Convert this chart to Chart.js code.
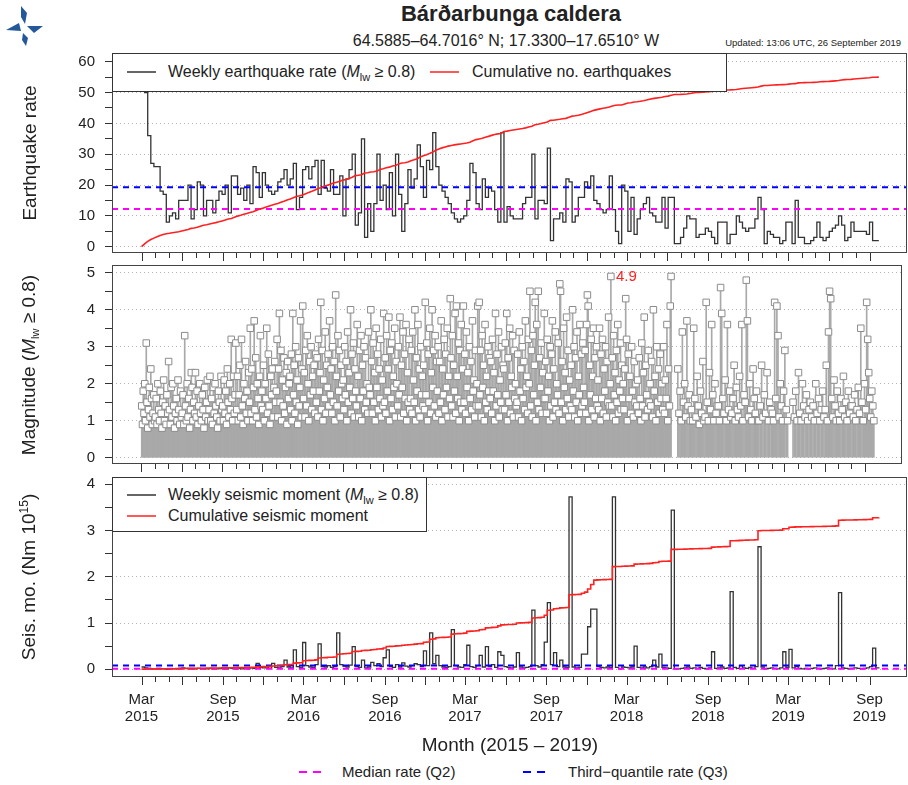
<!DOCTYPE html>
<html>
<head>
<meta charset="utf-8">
<title>Bárðarbunga caldera</title>
<script src="https://cdn.jsdelivr.net/npm/chart.js@4.4.1/dist/chart.umd.min.js"></script>
<style>
  body { margin: 0; background: #fff; }
  #wrap { position: relative; width: 908px; height: 785px; overflow: hidden;
          font-family: "Liberation Sans", Arial, sans-serif; color: #222; }
  canvas { position: absolute; left: 0; }
  .t { position: absolute; white-space: nowrap; }
  .ytitle { position: absolute; left: 30px; white-space: nowrap; font-size: 19px; line-height: 22px;
            transform: translate(-50%, -50%) rotate(-90deg); }
  .box { position: absolute; background: #fff; border: 1px solid #333; box-sizing: border-box; }
  .ls { position: absolute; }
  .lt { font-size: 16px; line-height: 20px; }
  .sb { font-size: 11px; position: relative; top: 4px; }
  .sp { font-size: 12px; position: relative; top: -7px; }
</style>
</head>
<body>
<div id="wrap">
  <svg style="position:absolute;left:4px;top:5px" width="42" height="42" viewBox="0 0 42 42">
    <g fill="#24589a">
      <polygon points="17,1 23,8 21,19 17,12"/>
      <polygon points="2,25 15,18 17,26"/>
      <polygon points="23,21 39,21 30,28"/>
      <polygon points="19,28 24,33 22,41 18,35"/>
    </g>
  </svg>
  <div class="t" style="left:0;top:1px;width:1022px;text-align:center;font-weight:bold;font-size:22px;line-height:26px;">Bárðarbunga caldera</div>
  <div class="t" style="left:0;top:31px;width:1012px;text-align:center;font-size:16px;line-height:20px;">64.5885–64.7016° N; 17.3300–17.6510° W</div>
  <div class="t" style="right:7px;top:37px;font-size:9.5px;line-height:12px;">Updated: 13:06 UTC, 26 September 2019</div>

  <canvas id="cRate" width="908" height="217" style="top:45px"></canvas>
  <canvas id="cMag" width="908" height="216" style="top:258px"></canvas>
  <canvas id="cMoment" width="908" height="256" style="top:474px"></canvas>

  <div class="ytitle" style="top:153px">Earthquake rate</div>
  <div class="ytitle" style="top:365px">Magnitude (<i>M</i><span class="sb">lw</span> ≥ 0.8)</div>
  <div class="ytitle" style="top:577px">Seis. mo. (Nm 10<span class="sp">15</span>)</div>

  <!-- legend, rate panel -->
  <div class="box" style="left:112px;top:53px;width:615px;height:39px;"></div>
  <svg class="ls" style="left:126px;top:68px" width="32" height="8">
    <line x1="1" y1="4" x2="30" y2="4" stroke="#333" stroke-width="1.5"/>
  </svg>
  <div class="t lt" style="left:168px;top:62px;">Weekly earthquake rate (<i>M</i><span class="sb">lw</span> ≥ 0.8)</div>
  <svg class="ls" style="left:429px;top:68px" width="32" height="8">
    <line x1="1" y1="4" x2="30" y2="4" stroke="#ff2020" stroke-width="1.5"/>
  </svg>
  <div class="t lt" style="left:472px;top:62px;">Cumulative no. earthquakes</div>

  <!-- legend, moment panel -->
  <div class="box" style="left:112px;top:477px;width:315px;height:55px;"></div>
  <svg class="ls" style="left:126px;top:491px" width="32" height="8">
    <line x1="1" y1="4" x2="30" y2="4" stroke="#333" stroke-width="1.5"/>
  </svg>
  <div class="t lt" style="left:168px;top:485px;">Weekly seismic moment (<i>M</i><span class="sb">lw</span> ≥ 0.8)</div>
  <svg class="ls" style="left:126px;top:512px" width="32" height="8">
    <line x1="1" y1="4" x2="30" y2="4" stroke="#ff2020" stroke-width="1.5"/>
  </svg>
  <div class="t lt" style="left:168px;top:506px;">Cumulative seismic moment</div>

  <div class="t" style="left:0;top:734px;width:1020px;text-align:center;font-size:19px;line-height:22px;">Month (2015 – 2019)</div>

  <svg class="ls" style="left:296px;top:767px" width="30" height="10">
    <line x1="3" y1="5" x2="27" y2="5" stroke="#ff00ff" stroke-width="2" stroke-dasharray="8,6"/>
  </svg>
  <div class="t" style="left:342px;top:763px;font-size:15px;line-height:18px;">Median rate (Q2)</div>
  <svg class="ls" style="left:520px;top:767px" width="30" height="10">
    <line x1="3" y1="5" x2="27" y2="5" stroke="#0000ff" stroke-width="2" stroke-dasharray="8,6"/>
  </svg>
  <div class="t" style="left:568px;top:763px;font-size:15px;line-height:18px;">Third−quantile rate (Q3)</div>
</div>

<script>
// weekly number of earthquakes, first week starting 1 March 2015
const weeklyRate = [
  55,50,36,27,26,26,18,17,8,10,
  11,9,15,15,15,20,9,12,21,20,
  10,15,15,11,15,18,17,20,11,23,
  23,17,19,15,20,14,26,24,16,24,
  20,18,17,18,21,22,25,20,22,27,
  12,16,25,26,22,26,28,17,
  28,19,18,25,17,17,23,10,22,25,
  30,7,11,35,3,14,5,14,30,15,
  20,12,24,10,30,17,5,14,25,19,
  22,33,26,16,28,25,37,26,20,18,
  16,14,11,9,8,9,10,15,27,24,
  14,12,22,16,19,18,12,8,37,8,
  13,
  10,9,9,9,14,16,16,30,9,15,
  15,14,32,2,9,9,11,8,22,21,
  8,10,16,16,21,19,23,15,14,12,
  11,12,23,12,5,1,20,18,5,16,
  4,9,12,14,16,11,10,8,8,16,
  6,16,16,1,1,3,6,10,9,9,
  3,4,4,6,5,3,1,8,8,8,
  1,4,4,10,8,6,5,6,6,9,
  16,12,1,5,4,3,3,1,2,8,
  8,1,15,3,3,1,1,2,3,8,
  3,2,3,5,6,7,10,7,2,3,
  8,5,5,5,5,4,8,2,2,2
];

// weekly seismic moment, 10^15 Nm
const weeklyMoment = [
  0.05,0.03,0.02,0.01,0.01,0.02,0.01,0.01,0.00,0.01,
  0.01,0.01,0.02,0.03,0.02,0.01,0.01,0.01,0.02,0.01,
  0.01,0.01,0.02,0.01,0.01,0.02,0.01,0.01,0.03,0.02,
  0.01,0.02,0.01,0.02,0.01,0.03,0.02,
  0.13,0.04,0.03,0.05,0.02,0.13,0.04,0.03,0.06,0.20,
  0.05,0.03,0.42,0.06,0.04,0.58,0.08,0.05,0.04,0.10,
  0.55,0.06,0.05,0.08,0.04,0.06,0.79,0.10,0.07,0.05,
  0.09,0.49,0.06,0.04,0.20,0.03,0.05,0.15,0.08,0.12,
  0.06,0.25,0.42,0.06,0.04,0.10,0.05,0.14,0.07,0.05,
  0.08,0.12,0.10,0.06,0.40,0.08,0.79,0.12,0.30,0.08,
  0.05,0.04,0.06,0.86,0.08,0.05,0.04,0.10,0.52,0.06,
  0.04,0.08,0.30,0.05,0.49,0.06,0.10,0.04,0.38,
  0.30,0.06,0.04,0.03,0.05,0.36,0.05,0.03,0.04,0.06,
  1.28,0.08,0.05,0.10,0.59,1.44,0.10,0.36,0.06,0.20,
  0.05,0.04,3.73,0.05,0.03,0.04,0.33,0.33,0.92,1.30,
  1.30,0.06,0.04,0.03,0.05,0.04,3.73,0.04,0.01,0.05,
  0.04,0.03,0.05,0.50,0.04,0.03,0.05,0.03,0.06,0.20,
  0.05,0.33,0.04,0.03,0.02,3.44,0.01,0.01,0.02,0.03,
  0.05,0.02,0.03,0.02,0.04,0.02,0.01,0.03,0.38,0.02,
  0.03,0.05,0.02,0.03,1.68,0.04,0.02,0.08,0.03,0.02,
  0.04,0.02,0.06,2.65,0.05,0.01,0.02,0.03,0.02,0.01,
  0.03,0.38,0.04,0.43,0.03,0.06,0.02,0.01,0.02,0.01,
  0.02,0.03,0.02,0.01,0.02,0.03,0.02,0.01,0.08,1.66,
  0.03,0.02,0.01,0.02,0.03,0.02,0.01,0.02,0.03,0.06,
  0.46,0.03,0.02
];

const rateQ2 = 12.2, rateQ3 = 19.3;
const momentQ2 = 0.01, momentQ3 = 0.08;
const cumRateEnd = 55;      // where the cumulative count ends on the rate axis
const cumMomentEnd = 3.28;  // where the cumulative moment ends on the moment axis

// magnitudes (Mlw) month by month, Mar 2015 .. Sep 2019; null = quiet spell
const monthlyMagnitudes = [
  [1.4,0.9,1.8,1.2,2.0,1.0,3.1,1.5,0.8,1.3,1.9,1.1,2.4,1.6,0.9,1.2,1.7,1.0],
  [1.1,1.6,0.9,2.0,1.3,1.0,1.8,1.2,0.8,1.5,2.1,1.0,1.4,0.9,1.7,1.2],
  [2.6,1.3,0.9,1.9,1.1,2.0,1.4,0.8,1.2,1.6,1.0,2.1,1.3,0.9,1.8,1.1],
  [1.2,1.7,0.9,3.3,1.4,1.0,2.0,1.1,1.6,0.8,1.3,2.3,1.9,1.0,1.5,1.2],
  [2.3,1.1,1.8,0.9,1.4,2.0,1.2,1.0,1.7,1.3,0.8,1.9,1.1,1.5,2.1,1.0],
  [1.3,2.2,1.0,1.6,0.9,1.9,1.2,2.0,1.4,1.1,0.8,1.8,1.5,1.0,2.2,1.3],
  [1.4,1.0,2.1,1.2,1.8,0.9,2.4,1.5,1.1,2.0,1.3,3.2,1.6,1.0,2.2,1.2,1.7],
  [3.1,1.3,2.2,1.0,1.7,2.5,1.1,3.2,1.4,0.9,2.0,1.6,2.6,1.2,1.8,1.0,2.3],
  [1.5,3.5,1.2,2.4,1.0,1.9,3.7,1.3,2.7,1.1,2.0,1.6,0.9,2.2,3.3,1.4,1.8],
  [1.3,2.5,1.0,2.0,1.6,3.5,1.2,2.8,1.4,0.9,2.2,1.7,2.4,1.1,1.9,2.6,1.5],
  [1.8,3.2,1.1,2.4,3.9,1.5,2.9,1.0,2.1,1.4,2.7,1.2,1.9,2.3,0.9,2.6,1.6,2.0],
  [2.2,1.3,2.8,1.0,3.9,1.7,2.5,1.2,3.0,1.5,2.1,0.9,2.7,1.4,1.9,3.7,1.1,2.4],
  [4.1,1.6,2.3,1.1,2.9,1.4,3.3,2.0,1.0,2.6,1.7,3.0,1.3,2.2,1.8,2.5,1.2,2.8],
  [1.5,2.7,1.1,3.2,1.8,2.3,4.2,1.3,2.9,1.0,2.1,1.6,3.4,1.2,2.5,1.9,2.8,1.4],
  [3.7,1.7,2.4,1.2,3.0,1.5,2.6,1.0,4.4,2.2,1.4,3.3,1.8,2.9,1.1,2.5,2.0,1.6],
  [2.1,1.3,3.0,1.7,2.6,1.0,3.4,1.5,2.3,1.9,4.0,1.2,2.8,1.6,3.1,1.1,2.4,1.8],
  [1.4,3.6,2.2,1.1,2.9,1.6,3.3,1.0,2.5,1.8,3.0,1.3,2.7,1.5,2.0,1.2,3.4,1.9],
  [1.7,4.0,2.6,1.2,3.1,1.5,2.3,1.0,3.5,1.9,2.8,1.3,2.4,1.6,3.2,1.1,2.1,1.4],
  [3.9,1.5,2.7,1.2,3.3,1.8,2.4,3.8,1.0,2.9,1.6,3.1,1.3,2.2,1.9,3.5,1.1,2.6],
  [2.0,1.4,3.0,1.7,3.8,1.1,2.5,1.9,3.4,1.2,2.8,1.6,3.6,1.0,2.3,1.5,3.2,1.3],
  [1.6,2.9,1.2,3.4,2.1,1.5,4.0,1.0,2.7,1.8,3.6,1.3,2.4,1.1,3.0,1.7,2.2,1.4],
  [2.5,1.3,4.2,1.7,3.1,1.0,2.8,1.5,3.5,1.2,2.3,4.0,1.9,2.9,1.4,3.3,1.1,2.6],
  [1.8,3.0,1.2,2.6,1.5,3.7,1.0,2.4,1.7,3.2,1.3,2.8,1.9,3.5,1.1,2.2,1.6,4.3],
  [2.7,1.4,3.3,1.1,2.5,1.8,3.9,1.2,4.1,2.2,1.6,3.1,1.0,2.9,1.5,3.6,1.3,2.4],
  [4.1,1.5,2.8,1.2,3.4,1.9,2.3,1.0,3.0,1.6,2.6,1.3,3.7,1.8,2.1,1.1,2.9,1.4],
  [2.0,4.1,1.4,4.2,1.7,2.9,1.1,3.3,1.9,2.5,1.0,3.6,1.5,2.2,1.3,3.0,1.8,2.7],
  [1.6,2.6,1.2,3.2,1.8,2.3,1.0,3.9,1.4,2.8,1.7,3.4,1.1,2.1,1.5,3.0,1.3,2.5],
  [2.4,1.3,3.1,1.7,3.9,1.0,2.7,1.5,3.5,1.2,2.2,1.9,3.3,1.1,2.9,1.6,2.0,1.4],
  [1.5,2.8,1.1,3.4,1.8,2.4,1.0,3.0,1.6,2.6,1.3,3.7,1.9,2.2,1.2,3.2,2.0,4.5],
  [1.4,2.9,1.1,3.3,1.7,2.5,4.2,1.0,3.6,1.5,4.5,1.3,2.7,1.9,3.1,1.2,2.3,1.6],
  [3.9,1.6,2.6,1.2,3.2,1.8,2.2,1.0,3.0,1.4,2.8,3.7,1.1,2.4,1.5,3.4,1.3,2.0],
  [1.7,3.1,1.2,4.7,4.5,1.5,2.6,1.0,3.5,1.9,2.3,1.3,3.8,1.6,2.9,1.1,2.1,1.4],
  [2.5,1.3,4.0,1.8,3.0,1.1,2.7,1.5,3.4,1.0,2.2,1.7,3.6,1.2,2.8,1.4,3.1,1.9],
  [1.5,2.9,1.2,3.6,4.4,4.1,1.0,2.5,1.7,3.2,1.3,2.2,3.5,1.1,2.7,1.6,3.0,1.4],
  [2.1,1.3,3.5,1.0,2.8,1.6,3.2,1.2,2.4,1.8,3.0,1.1,2.6,1.5,3.8,1.4,2.0,4.9],
  [1.4,2.7,1.1,3.3,1.7,2.3,1.0,2.9,1.5,3.6,1.2,2.1,1.8,3.1,1.3,2.5,1.6,2.0],
  [1.3,2.4,4.3,3.2,1.0,2.8,1.6,2.2,1.2,3.0,1.8,1.1,2.6,1.5,2.0,1.4],
  [2.1,1.2,2.7,1.6,1.0,3.1,1.4,2.3,3.8,1.1,2.5,1.7,1.3,2.9,1.5,2.0],
  [1.4,2.6,1.1,4.0,1.8,2.2,1.0,3.0,1.5,2.4,1.2,2.8,1.6,2.0,1.3,3.0],
  [1.2,2.1,1.6,3.6,1.0,2.4,1.4,4.1,4.9,null,null,null,null,null,null,null],
  [2.4,1.2,1.8,1.0,3.4,1.5,2.0,1.1,3.7,1.4,1.7,1.0],
  [1.3,1.0,3.5,1.6,1.1,2.2,1.4,0.9,1.8,1.2,2.6,1.0],
  [1.1,4.2,1.5,1.0,2.3,1.3,3.6,1.7,1.0,2.0,1.2,1.4],
  [1.4,1.0,4.6,3.9,1.6,1.2,2.1,1.0,3.6,1.3,1.8,1.1],
  [1.2,1.6,2.5,1.0,1.9,1.3,1.1,2.2,1.4,3.6,1.0,1.7],
  [1.5,4.8,3.7,1.1,2.0,1.3,1.0,2.4,1.6,1.2,1.8,1.0],
  [1.0,1.4,2.5,1.1,1.7,1.2,2.3,1.0,1.5,1.3],
  [1.2,1.0,4.2,1.6,4.1,3.3,1.1,2.0,1.4,1.0,1.8],
  [2.9,1.3,1.0,null,null,null,1.5,1.1,1.8,1.0],
  [2.3,1.2,1.0,2.0,1.4,1.1,1.7,1.0,1.3,1.5],
  [1.1,1.4,1.0,2.0,1.2,1.6,1.0,1.3,1.8,1.1],
  [1.3,2.5,1.0,3.4,4.5,4.3,1.6,1.1,2.1,1.4,1.0,1.8],
  [1.2,1.0,1.6,1.3,2.2,1.1,1.5,1.0,1.8,1.2,1.4],
  [1.4,1.1,1.7,1.0,1.3,1.9,1.2,3.5,1.5,1.0,2.0],
  [1.3,4.2,3.2,2.3,1.6,1.1,1.8,1.4,1.0]
];

const rateTickLabels = [0, 10, 20, 30, 40, 50, 60];
const magTickLabels = [0, 1, 2, 3, 4, 5];
const momentTickLabels = [0, 1, 2, 3, 4];
const xTickLabels = [
  ['Mar','2015'], ['Sep','2015'], ['Mar','2016'], ['Sep','2016'], ['Mar','2017'],
  ['Sep','2017'], ['Mar','2018'], ['Sep','2018'], ['Mar','2019'], ['Sep','2019']
];

const FONT = '"Liberation Sans", Arial, sans-serif';
Chart.defaults.font.family = FONT;
Chart.defaults.color = '#222';

// x runs in days since 1 Mar 2015
const START = Date.UTC(2015, 2, 1);
const dayOf = m => (Date.UTC(2015, 2 + m, 1) - START) / 864e5;
const N_MONTHS = monthlyMagnitudes.length;
const DATA_END = 7 * (weeklyRate.length - 1);
const X_MIN = -66.7, X_MAX = 1729.7;

const RATE_Y = [-2.04, 62.82];
const MAG_Y = [-0.17, 5.21];
const MOM_Y = [-0.166, 4.158];

const weekly = vals => vals.map((v, i) => ({ x: 7 * i, y: v }));
const level = v => [{ x: X_MIN, y: v }, { x: X_MAX, y: v }];

// running totals
const cumBefore = [], cumThrough = [];
weeklyRate.reduce((s, v, i) => { cumBefore.push({ x: 7 * i, y: s }); return s + v; }, 0);
weeklyMoment.reduce((s, v, i) => { cumThrough.push({ x: 7 * i, y: s + v }); return s + v; }, 0);
const rateScale = cumBefore[cumBefore.length - 1].y / cumRateEnd;
const momentScale = cumThrough[cumThrough.length - 1].y / cumMomentEnd;

// individual events placed evenly through their month
const events = [];
monthlyMagnitudes.forEach((list, m) => {
  const a = dayOf(m), b = Math.min(dayOf(m + 1), DATA_END);
  list.forEach((mag, k) => {
    if (mag !== null) events.push({ x: a + (k + 0.5) * (b - a) / list.length, y: mag });
  });
});

function withMinor(major) {
  const out = [];
  major.forEach((v, i) => {
    out.push({ value: v });
    if (i < major.length - 1) out.push({ value: (v + major[i + 1]) / 2 });
  });
  return out;
}

function yAxis(range, labels) {
  return {
    type: 'linear', min: range[0], max: range[1],
    afterBuildTicks: s => { s.ticks = withMinor(labels); },
    afterFit: s => { s.width = 112; s.paddingTop = 0; s.paddingBottom = 0; },
    ticks: { autoSkip: false, padding: 10, color: '#222', font: { size: 15 },
             callback: v => labels.includes(v) ? String(v) : '' },
    grid: { color: c => labels.includes(c.tick.value) ? '#b4b4b4' : 'rgba(0,0,0,0)',
            tickColor: '#333', tickLength: 7, lineWidth: 1 },
    border: { display: false, dash: [1, 3] }
  };
}
const xAxis = { type: 'linear', display: false, min: X_MIN, max: X_MAX, offset: false };
const hidden = (range, f) => ({ type: 'linear', display: false, min: range[0] * f, max: range[1] * f });

const panelBox = {
  id: 'panelBox',
  afterDraw(chart) {
    const { ctx, chartArea: a } = chart;
    ctx.save();
    ctx.strokeStyle = '#444';
    ctx.lineWidth = 1;
    ctx.strokeRect(Math.round(a.left) + 0.5, Math.round(a.top) + 0.5,
                   Math.round(a.width) - 1, Math.round(a.height) - 1);
    ctx.restore();
  }
};

const monthTicks = {
  id: 'monthTicks',
  afterDraw(chart, args, opts) {
    const { ctx, chartArea: a, scales: { x } } = chart;
    ctx.save();
    ctx.strokeStyle = '#333';
    ctx.lineWidth = 1;
    ctx.beginPath();
    for (let m = 0; m < N_MONTHS; m++) {
      const px = Math.round(x.getPixelForValue(dayOf(m))) + 0.5;
      ctx.moveTo(px, a.bottom);
      ctx.lineTo(px, a.bottom + (m % 3 === 0 ? 8 : 5));
    }
    ctx.stroke();
    if (opts.labels) {
      ctx.fillStyle = '#222';
      ctx.font = '15px ' + FONT;
      ctx.textAlign = 'center';
      ctx.textBaseline = 'middle';
      xTickLabels.forEach(([mon, yr], i) => {
        const px = x.getPixelForValue(dayOf(6 * i));
        ctx.fillText(mon, px, a.bottom + 23);
        ctx.fillText(yr, px, a.bottom + 40);
      });
    }
    ctx.restore();
  }
};

// value of the largest event, written beside its marker
const peakLabel = {
  id: 'peakLabel',
  afterDatasetsDraw(chart) {
    const pts = chart.data.datasets[0].data;
    let k = 0;
    pts.forEach((p, i) => { if (p.y > pts[k].y) k = i; });
    const el = chart.getDatasetMeta(0).data[k];
    const { ctx } = chart;
    ctx.save();
    ctx.fillStyle = '#ff2020';
    ctx.font = '15px ' + FONT;
    ctx.textAlign = 'left';
    ctx.textBaseline = 'middle';
    ctx.fillText(pts[k].y.toFixed(1), el.x + 5, el.y);
    ctx.restore();
  }
};

const base = (pad) => ({
  responsive: false, animation: false, events: [],
  layout: { padding: { left: 0, right: 1, top: pad[0], bottom: pad[1] } },
  plugins: { legend: { display: false }, tooltip: { enabled: false } }
});

const stepLine = (data, color) => ({
  type: 'line', data, stepped: true, borderColor: color, borderWidth: 1.3,
  pointRadius: 0, fill: false
});
const dashLine = (data, color) => ({
  type: 'line', data, borderColor: color, borderWidth: 2, borderDash: [6, 5],
  pointRadius: 0, fill: false
});

// weekly earthquake rate
new Chart(document.getElementById('cRate'), {
  type: 'line',
  data: { datasets: [
    Object.assign(stepLine(weekly(weeklyRate), '#333'), { order: 4 }),
    Object.assign(dashLine(level(rateQ2), '#ff00ff'), { order: 3 }),
    Object.assign(dashLine(level(rateQ3), '#0000ff'), { order: 2 }),
    { type: 'line', data: cumBefore, yAxisID: 'yc', borderColor: '#ff2020', borderWidth: 1.6,
      pointRadius: 0, fill: false, order: 1 }
  ]},
  options: Object.assign(base([8, 9]), {
    scales: { x: xAxis, y: yAxis(RATE_Y, rateTickLabels), yc: hidden(RATE_Y, rateScale) }
  }),
  plugins: [panelBox, monthTicks]
});

// magnitude of each event as a stem with a square marker
new Chart(document.getElementById('cMag'), {
  type: 'bar',
  data: { datasets: [
    { type: 'scatter', data: events.slice(), pointStyle: 'rect', pointRadius: 4.6,
      backgroundColor: '#ffffff', borderColor: '#8c8c8c', borderWidth: 1, order: 1 },
    { type: 'bar', data: events.slice(), backgroundColor: '#a9a9a9', barThickness: 1,
      borderWidth: 0, grouped: false, order: 2 }
  ]},
  options: Object.assign(base([7, 10]), {
    scales: { x: xAxis, y: yAxis(MAG_Y, magTickLabels) }
  }),
  plugins: [panelBox, monthTicks, peakLabel]
});

// weekly seismic moment
const momentOpts = base([3, 53]);
momentOpts.plugins.monthTicks = { labels: true };
new Chart(document.getElementById('cMoment'), {
  type: 'line',
  data: { datasets: [
    Object.assign(stepLine(weekly(weeklyMoment), '#333'), { order: 4 }),
    Object.assign(dashLine(level(momentQ2), '#ff00ff'), { order: 3 }),
    Object.assign(dashLine(level(momentQ3), '#0000ff'), { order: 2 }),
    { type: 'line', data: cumThrough, yAxisID: 'yc', stepped: true, borderColor: '#ff2020',
      borderWidth: 1.6, pointRadius: 0, fill: false, order: 1 }
  ]},
  options: Object.assign(momentOpts, {
    scales: { x: xAxis, y: yAxis(MOM_Y, momentTickLabels), yc: hidden(MOM_Y, momentScale) }
  }),
  plugins: [panelBox, monthTicks]
});
</script>
</body>
</html>
